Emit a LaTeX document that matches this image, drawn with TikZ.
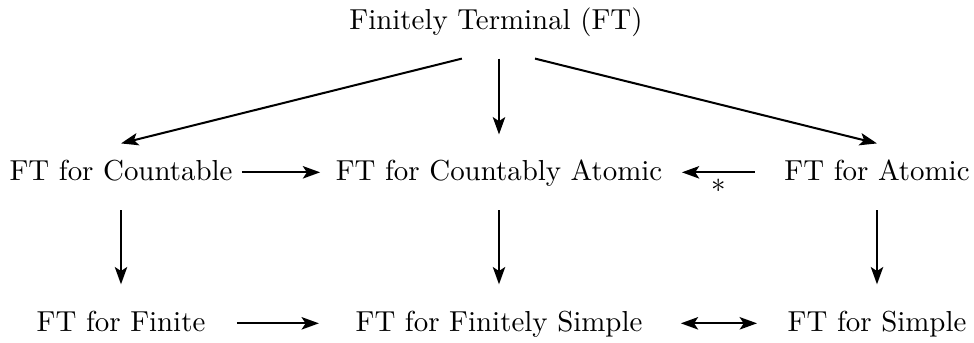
\documentclass[tikz,border=0pt]{standalone}
\usepackage{amsmath,amssymb}
\usepackage{tikz}
\usetikzlibrary{arrows.meta}

\begin{document}
\begin{tikzpicture}[x=0.346pt,y=-0.346pt,
  >={Stealth[length=6pt,width=4.3pt,inset=1.4pt]},
  lab/.style={anchor=base,inner sep=0pt,text height=7pt,text depth=1pt},
  arr/.style={line width=0.7pt,->}]
\useasboundingbox (0,0) rectangle (974,343);
% the three rows
\node[lab] (top) at (496,30) {Finitely Terminal (FT)};
\node[lab] (cnt) at (121,181) {FT for Countable};
\node[lab] (cat) at (499,181) {FT for Countably Atomic};
\node[lab] (atm) at (877,181) {FT for Atomic};
\node[lab] (fin) at (121,332) {FT for Finite};
\node[lab] (fsi) at (499,332) {FT for Finitely Simple};
\node[lab] (sim) at (877,332) {FT for Simple};
% from the top
\draw[arr] ([xshift=-11.8pt,yshift=-8.7pt]top.south) -- ([yshift=5.8pt]cnt.north);
\draw[arr,shorten <=8.7pt,shorten >=8.9pt] (top.south -| cat.north) -- (cat.north);
\draw[arr] ([xshift=13.5pt,yshift=-8.7pt]top.south) -- ([yshift=5.8pt]atm.north);
% middle row
\draw[arr,shorten <=3.1pt,shorten >=5.2pt] (cnt.east) -- (cat.west);
\draw[arr,shorten <=10pt,shorten >=6.6pt] (atm.west) -- node[pos=.54,below=2pt,inner sep=0pt] (ast) {$*$} (cat.east);
% down
\draw[arr,shorten <=9pt,shorten >=9.3pt] (cnt.south) -- (fin.north);
\draw[arr,shorten <=9pt,shorten >=9.3pt] (cat.south) -- (fsi.north);
\draw[arr,shorten <=9pt,shorten >=9.3pt] (atm.south) -- (sim.north);
% bottom row
\draw[arr,shorten <=10.7pt,shorten >=12.5pt] (fin.east) -- (fsi.west);
\draw[arr,<->,shorten <=13.1pt,shorten >=10.4pt] (fsi.east) -- (sim.west);
\end{tikzpicture}
\end{document}
